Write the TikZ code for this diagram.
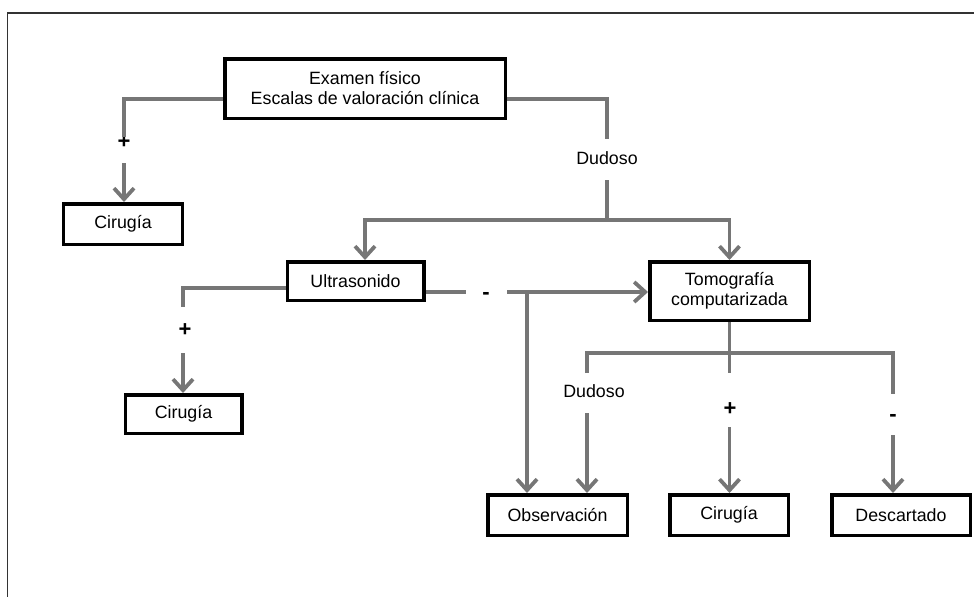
\documentclass[tikz,border=0pt]{standalone}
\usepackage{fontspec}
\setmainfont{Liberation Sans}
\usetikzlibrary{arrows.meta}
\definecolor{lgray}{HTML}{767676}
\definecolor{framec}{HTML}{333333}
\begin{document}
\begin{tikzpicture}[x=1pt,y=-1pt,
  box/.style={draw=black, line width=3.5pt, inner sep=0pt, align=center,
    font=\fontsize{17.8}{20}\selectfont},
  conn/.style={draw=lgray, line width=3.8pt},
  arr/.style={conn, -{Straight Barb[length=11pt,width=20pt]}},
  lbl/.style={inner sep=0pt, font=\fontsize{17.8}{20}\selectfont},
  sign/.style={inner sep=0pt, font=\fontsize{22}{24}\selectfont\bfseries},
  frame/.style={draw=framec, line width=1.5pt}]
\useasboundingbox (0,0) rectangle (974,597);
\draw[frame] (974,13) -- (7.5,13) -- (7.5,597);

% boxes
\node[box, minimum width=280.5pt, minimum height=59.5pt] (exam) at (365,88.5) {Examen físico\\Escalas de valoración clínica};
\node[box, minimum width=119pt, minimum height=40.5pt] (cir1) at (123,224) {Cirugía};
\node[box, minimum width=136.5pt, minimum height=38.5pt] (ultra) at (355.5,281) {Ultrasonido};
\node[box, minimum width=159.5pt, minimum height=58.5pt] (tomo) at (729.5,291) {Tomografía\\computarizada};
\node[box, minimum width=116.5pt, minimum height=38.5pt] (cir2) at (183.5,414) {Cirugía};
\node[box, minimum width=139.5pt, minimum height=40.5pt] (obs) at (557.5,515) {Observación};
\node[box, minimum width=118.5pt, minimum height=40.5pt] (cir3) at (729,515) {Cirugía};
\node[box, minimum width=138.5pt, minimum height=40.5pt] (desc) at (901,515) {Descartado};

% labels
\node[sign] (plus1) at (124,142) {+};
\node[lbl] (dud1) at (607,158) {Dudoso};
\node[sign] (plus2) at (185,330) {+};
\node[sign] (minus1) at (486,296) {-};
\node[lbl] (dud2) at (594,391) {Dudoso};
\node[sign] (plus3) at (730,409) {+};
\node[sign] (minus2) at (893,418) {-};

% coordinates
\coordinate (a1) at (124,137);
\coordinate (a2) at (124,163);
\coordinate (b1) at (607,139);
\coordinate (b2) at (607,180);
\coordinate (b3) at (607,220);
\coordinate (c1) at (183,307);
\coordinate (c2) at (183,353);
\coordinate (d1) at (466,292);
\coordinate (d2) at (507,292);
\coordinate (d3) at (527,292);
\coordinate (e2) at (729.5,373);
\coordinate (e3) at (729.5,427);
\coordinate (f1) at (587,373);
\coordinate (f2) at (587,413);
\coordinate (h1) at (587,353);
\coordinate (h2) at (893,353);
\coordinate (g1) at (893,394);
\coordinate (g2) at (893,435);

% connectors
\draw[conn] ([yshift=-10.5pt]exam.west) -| (a1);
\draw[arr] (a2) -- (a2 |- cir1.north);
\draw[conn] ([yshift=-10.5pt]exam.east) -| (b1);
\draw[conn] (b2) -- (b3);
\draw[arr] (b3) -| ([xshift=9.5pt]ultra.north);
\draw[arr] (b3) -| (tomo.north);
\draw[conn] ([yshift=-7pt]ultra.west) -| (c1);
\draw[arr] (c2) -- (c2 |- cir2.north);
\draw[conn] ([yshift=-11pt]ultra.east) -- (d1);
\draw[arr] (d2) -- (d2 -| tomo.west);
\draw[arr] (d3) -- (d3 |- obs.north);
\draw[conn] (tomo.south) -- (e2);
\draw[conn] (f1) -- (h1) -- (h2) -- (g1);
\draw[arr] (e3) -- (e3 |- cir3.north);
\draw[arr] (f2) -- (f2 |- obs.north);
\draw[arr] (g2) -- (g2 |- desc.north);
\end{tikzpicture}
\end{document}
